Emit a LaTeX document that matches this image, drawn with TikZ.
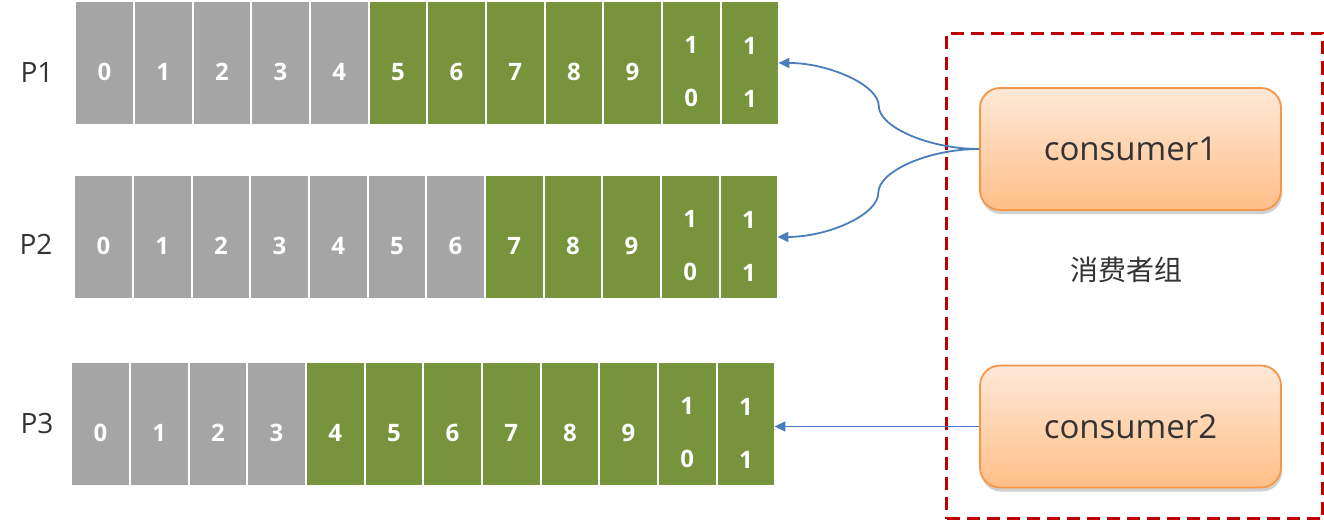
\documentclass[tikz,border=0pt]{standalone}
\usepackage{fontspec}
\setmainfont{Open Sans}
\newfontfamily\cjk{Noto Sans CJK SC}
\usetikzlibrary{arrows.meta,shadows,calc}
\definecolor{cgray}{HTML}{A5A5A5}
\definecolor{cgreen}{HTML}{77933C}
\definecolor{cred}{HTML}{C00000}
\definecolor{cblue}{HTML}{4A7EBB}
\definecolor{corange}{HTML}{F79646}
\definecolor{ctop}{HTML}{FFE8D8}
\definecolor{cbot}{HTML}{FFBF88}
\definecolor{ctext}{HTML}{333333}
\begin{document}
\begin{tikzpicture}[x=1pt,y=-1pt,
 cell/.style={rectangle,anchor=north west,minimum width=56.67pt,minimum height=121.5pt,inner sep=0pt,draw=none},
 celltext/.style={text=white,font=\bfseries\fontsize{24}{53}\selectfont,align=center,inner sep=0pt},
 plabel/.style={font=\fontsize{28}{30}\selectfont,text=ctext},
 consumer/.style={rectangle,rounded corners=20pt,draw=corange,line width=1.8pt,top color=ctop,bottom color=cbot,minimum width=301pt,minimum height=122pt,font=\fontsize{33}{36}\selectfont,text=ctext,drop shadow={shadow xshift=1pt,shadow yshift=-4pt,opacity=0.3,fill=black!60}},
 conn/.style={draw=cblue,line width=1.8pt,-{Triangle[length=11pt,width=10pt]}},
 grpbox/.style={rectangle,anchor=north west,draw=cred,line width=3pt,dash pattern=on 13pt off 7pt,minimum width=376pt,minimum height=485pt,inner sep=0pt}
]
\useasboundingbox (0,0) rectangle (1324,519);
\fill[white] (0,0) rectangle (1324,519);

\node[grpbox] (grp) at (945,32) {};

\foreach \rw/\x/\y/\ng in {1/76/2/5,2/75/176/7,3/72/363/4}{
  \foreach \i in {0,...,11}{
    \ifnum\i<\ng \def\col{cgray}\else\def\col{cgreen}\fi
    \node[cell,fill=\col] (p\rw c\i) at ({\x+\i*58.67},\y) {};
    \ifnum\i<10 \def\txt{\i}\else\ifnum\i=10 \def\txt{1\\0}\else\def\txt{1\\1}\fi\fi
    \node[celltext] (t\rw c\i) at ([yshift=-9pt]p\rw c\i.center) {\txt};
  }
}

\node[plabel] (l1) at (37,73) {P1};
\node[plabel] (l2) at (36,244) {P2};
\node[plabel] (l3) at (37,423) {P3};

\node[consumer] (c1) at (1130.5,149) {consumer1};
\node[consumer] (c2) at (1130.5,426.5) {consumer2};

\node[font=\cjk\fontsize{28}{30}\selectfont,text=ctext] (gl) at (1126,270) {消费者组};

\draw[conn] (c1.west) .. controls +(-50,0) and +(0,21) .. ($(c1.west)!0.5!(p1c11.east)$) .. controls +(0,-21) and +(50,0) .. (p1c11.east);
\draw[conn] (c1.west) .. controls +(-50,0) and +(0,-22) .. ($(c1.west)!0.5!(p2c11.east)$) .. controls +(0,22) and +(50,0) .. (p2c11.east);
\draw[conn] (c2.west) -- (c2.west -| p3c11.east);
\end{tikzpicture}
\end{document}
